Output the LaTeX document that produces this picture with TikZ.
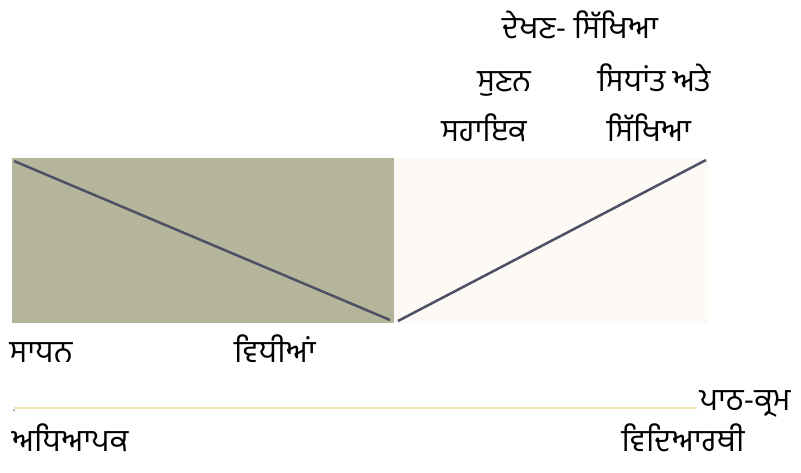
\documentclass[tikz,border=0pt]{standalone}
\usepackage{fontspec}
\newfontfamily\gurmukhi[Script=Gurmukhi]{Hind Jalandhar}
\definecolor{olivebox}{HTML}{B5B59B}
\definecolor{creambox}{HTML}{FDFAF5}
\definecolor{slateline}{HTML}{4E5166}
\definecolor{paleyellow}{HTML}{EEE8B0}
\begin{document}
\begin{tikzpicture}[
        x=1pt, y=-1pt,
        every node/.style={font=\gurmukhi\fontsize{31}{33}\selectfont, inner sep=0pt, anchor=base},
        diag/.style={draw=slateline, line width=2.5pt}
    ]
        \useasboundingbox (0,0) rectangle (801,472);
        % Rectángulos de fondo
        \fill[olivebox] (12,158) rectangle (394,323);
        \fill[creambox] (394,158) rectangle (708,323);
        \coordinate (a1) at (14,161);
        \coordinate (a2) at (390,320);
        \coordinate (b1) at (398,321);
        \coordinate (b2) at (706,160);
        \draw[diag] (a1) -- (a2);
        \draw[diag] (b1) -- (b2);

        % Línea amarilla
        \coordinate (y1) at (14,408);
        \coordinate (y2) at (697,408);
        \draw[paleyellow, line width=1.5pt] (y1) -- (y2);
        \fill[gray] (14,410) circle (1);

        % Etiquetas superiores
        \node (dekhan) at (580,38) {ਦੇਖਣ- ਸਿੱਖਿਆ};
        \node (sunan) at (504,91) {ਸੁਣਨ};
        \node (sidhant) at (654,91) {ਸਿਧਾਂਤ ਅਤੇ};
        \node (sahaik) at (484,141) {ਸਹਾਇਕ};
        \node (sikhia) at (649,141) {ਸਿੱਖਿਆ};

        % Etiquetas inferiores
        \node (sadhan) at (41,362) {ਸਾਧਨ};
        \node (vidhian) at (275,362) {ਵਿਧੀਆਂ};
        \node (pathkram) at (745,410) {ਪਾਠ-ਕ੍ਰਮ};
        \node (vidiarthi) at (683,451) {ਵਿਦਿਆਰਥੀ};
        \node (adhiapak) at (70,451) {ਅਧਿਆਪਕ};
\end{tikzpicture}
\end{document}
